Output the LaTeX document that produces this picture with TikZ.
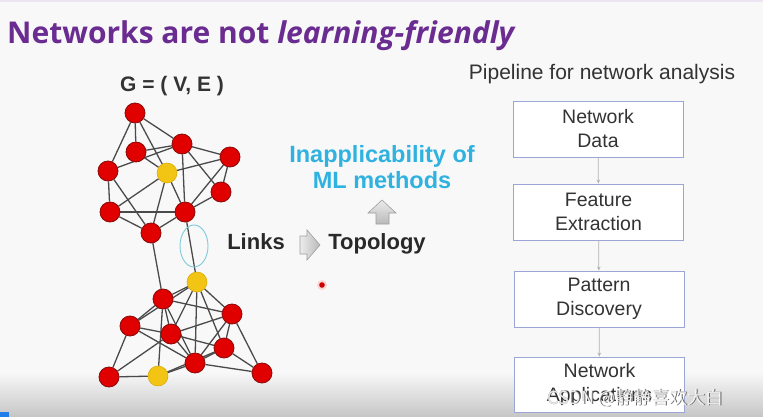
\documentclass[tikz,border=0pt]{standalone}
\usepackage{fontspec}
\setmainfont{Liberation Sans}
\newfontfamily\titlefont{Open Sans}
\newfontfamily\cjkfont{Noto Sans CJK SC}
\usetikzlibrary{arrows.meta}
\pgfdeclarelayer{back}
\pgfdeclarelayer{edges}
\pgfsetlayers{back,edges,main}
\definecolor{bgc}{HTML}{F8F8F8}
\definecolor{titlec}{HTML}{6B2C91}
\definecolor{cyanc}{HTML}{2FB2E0}
\definecolor{redc}{HTML}{E00000}
\definecolor{redd}{HTML}{8A0A0A}
\definecolor{yelc}{HTML}{F2C514}
\definecolor{yeld}{HTML}{D9A800}
\definecolor{edgec}{HTML}{4A4A4A}
\definecolor{boxc}{HTML}{9CA6D6}
\definecolor{txtc}{HTML}{333333}
\definecolor{ellc}{HTML}{7CCADB}
\tikzset{
  rn/.style={circle,fill=redc,draw=redd,line width=0.8pt,minimum size=20pt,inner sep=0pt},
  yn/.style={circle,fill=yelc,draw=yeld,line width=0.5pt,minimum size=20pt,inner sep=0pt},
  edge/.style={draw=edgec,line width=1.3pt},
  pbox/.style={draw=boxc,fill=white,line width=0.9pt,minimum width=170pt,minimum height=56pt,inner sep=0pt,align=center,text=txtc,font=\fontsize{19.5}{24}\selectfont},
  parrow/.style={draw=gray!60,line width=0.7pt,-{Stealth[length=4pt,width=3.5pt]}},
  blockarrow/.style={draw=gray!75,line width=0.6pt},
}
\begin{document}
\begin{tikzpicture}[x=1pt,y=-1pt]
\useasboundingbox (0,0) rectangle (763,417);
\begin{pgfonlayer}{back}
\fill[bgc] (0,0) rectangle (763,417);
\fill[titlec!12] (0,0) rectangle (763,2);
\shade[top color=bgc,bottom color=gray!45] (0,372) rectangle (763,417);
\fill[cyanc!70!blue] (0,412) rectangle (9,417);
\end{pgfonlayer}

% title
\node[anchor=base west,inner sep=0pt,text=titlec,font=\titlefont\bfseries\fontsize{30}{34}\selectfont] (title) at (7,44) {Networks are not \textit{learning-friendly}};

% graph label
\node[anchor=base,inner sep=0pt,text=txtc,font=\bfseries\fontsize{21}{24}\selectfont] (glabel) at (172,92) {G = ( V, E )};

% top cluster
\node[rn] (A) at (135,113) {};
\node[rn] (B) at (136,152) {};
\node[rn] (C) at (182,144) {};
\node[rn] (D) at (230,157) {};
\node[rn] (E) at (108,171) {};
\node[yn] (Y1) at (167,173) {};
\node[rn] (F) at (221,192) {};
\node[rn] (G) at (110,212) {};
\node[rn] (H) at (185,212) {};
\node[rn] (I) at (151,233) {};
% bottom cluster
\node[yn] (Y2) at (197,282) {};
\node[rn] (J) at (163,299) {};
\node[rn] (K) at (232,314) {};
\node[rn] (L) at (130,326) {};
\node[rn] (M) at (171,334) {};
\node[rn] (N) at (224,348) {};
\node[rn] (O) at (195,363) {};
\node[rn] (P) at (109,377) {};
\node[yn] (Y3) at (158,376) {};
\node[rn] (Q) at (262,373) {};

\begin{pgfonlayer}{edges}
\foreach \u/\v in {A/E,A/B,A/C,A/Y1,B/C,B/Y1,E/C,E/G,E/I,C/D,C/H,C/F,D/Y1,D/F,D/H,Y1/G,Y1/I,Y1/H,G/H,G/I,I/H,H/F,H/Y2,I/J,
  Y2/J,Y2/L,Y2/M,Y2/O,Y2/N,Y2/K,J/L,J/M,J/K,J/O,J/Y3,L/M,L/P,L/O,M/K,M/N,M/O,K/N,K/O,K/Q,N/O,N/Q,O/Q,O/Y3,N/Y3,P/Y3,P/M}
  \draw[edge] (\u) -- (\v);
\end{pgfonlayer}

% highlight ellipse
\draw[ellc,line width=0.9pt] (194,246) ellipse [x radius=14pt,y radius=21pt];

% middle text
\node[anchor=base,inner sep=0pt,text=txtc!80!black,font=\bfseries\fontsize{22}{26}\selectfont] (links) at (256,249) {Links};
\node[anchor=base,inner sep=0pt,text=txtc!80!black,font=\bfseries\fontsize{22}{26}\selectfont] (topo) at (377,249) {Topology};
\shadedraw[blockarrow,left color=gray!15,right color=gray!55]
  (300,236) -- (307,236) -- (307,230) -- (320,245) -- (307,260) -- (307,254) -- (300,254) -- cycle;
\shadedraw[blockarrow,top color=gray!15,bottom color=gray!55]
  (376,224) -- (376,213) -- (368,213) -- (382,200) -- (396,213) -- (389,213) -- (389,224) -- cycle;
\node[anchor=base,inner sep=0pt,text=cyanc,font=\bfseries\fontsize{23.5}{27}\selectfont] (inap1) at (382,162) {Inapplicability of};
\node[anchor=base,inner sep=0pt,text=cyanc,font=\bfseries\fontsize{23.5}{27}\selectfont] (inap2) at (382,189) {ML methods};
\fill[red!30,opacity=0.5] (322,285) circle (5pt);
\fill[red!80!black] (322,285) circle (2.8pt);

% pipeline
\node[anchor=base,inner sep=0pt,text=txtc,font=\fontsize{21}{24}\selectfont] (ptitle) at (602,80) {Pipeline for network analysis};
\node[pbox] (b1) at (598,129) {Network\\Data};
\node[pbox] (b2) at (598.5,212) {Feature\\Extraction};
\node[pbox] (b3) at (599,299) {Pattern\\Discovery};
\node[pbox,minimum height=55pt] (b4) at (599.5,384.5) {Network\\Applications};
\draw[parrow] (b1) -- (b2);
\draw[parrow] (b2) -- (b3);
\draw[parrow] (b3) -- (b4);

% watermark
\node[anchor=base west,inner sep=0pt,text=gray!80!black,font=\cjkfont\fontsize{18}{20}\selectfont] (wm0) at (547.7,404.7) {CSDN @静静喜欢大白};
\node[anchor=base west,inner sep=0pt,text=white,opacity=0.85,font=\cjkfont\fontsize{18}{20}\selectfont] (wm) at (547,404) {CSDN @静静喜欢大白};
\end{tikzpicture}
\end{document}
